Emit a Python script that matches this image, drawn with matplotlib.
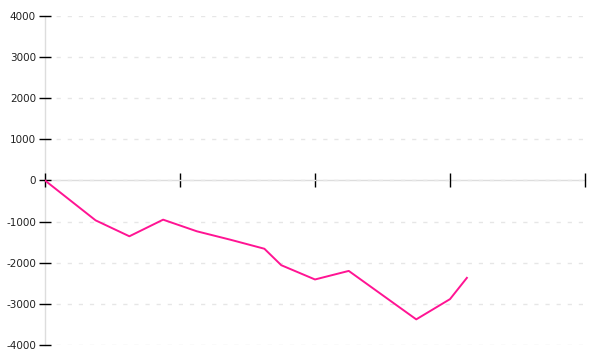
import matplotlib
matplotlib.use("Agg")
from matplotlib import pyplot as plt

# points (x = step index, y = value)
steps = [0, 3, 5, 7, 9, 11, 13, 14, 16, 18, 22, 24, 25]
values = [0, -970, -1357, -953, -1236, -1442, -1660, -2060, -2407, -2199, -3377, -2885, -2368]

x_ticks = [0, 8, 16, 24, 32]
y_ticks = [-4000, -3000, -2000, -1000, 0, 1000, 2000, 3000, 4000]

fig = plt.figure(figsize=(6, 3.6), dpi=100)
ax = fig.add_axes([0.075, 0.0417, 0.9, 0.914])

ax.plot(steps, values, color="#ff1493", linewidth=1.4, zorder=3)

ax.set_xlim(0, 32)
ax.set_ylim(-4000, 4000)
ax.set_xticks(x_ticks)
ax.set_xticklabels([])
ax.set_yticks(y_ticks)
ax.set_yticklabels([str(v) for v in y_ticks])

for side in ["top", "right"]:
    ax.spines[side].set_visible(False)
for side in ["left", "bottom"]:
    ax.spines[side].set_color("#dddddd")
    ax.spines[side].set_linewidth(1)
    ax.spines[side].set_zorder(0.5)
ax.spines["bottom"].set_position(("data", 0))

ax.tick_params(axis="x", direction="inout", length=10, width=1, color="black")
ax.tick_params(axis="y", direction="inout", length=9, width=1, color="black",
               labelsize=7.5, pad=2, labelcolor="#222222")

ax.yaxis.grid(True, linestyle=(0, (3, 5)), color="#e6e6e6", linewidth=1)
ax.set_axisbelow(True)

fig.savefig("out.png", dpi=100)
